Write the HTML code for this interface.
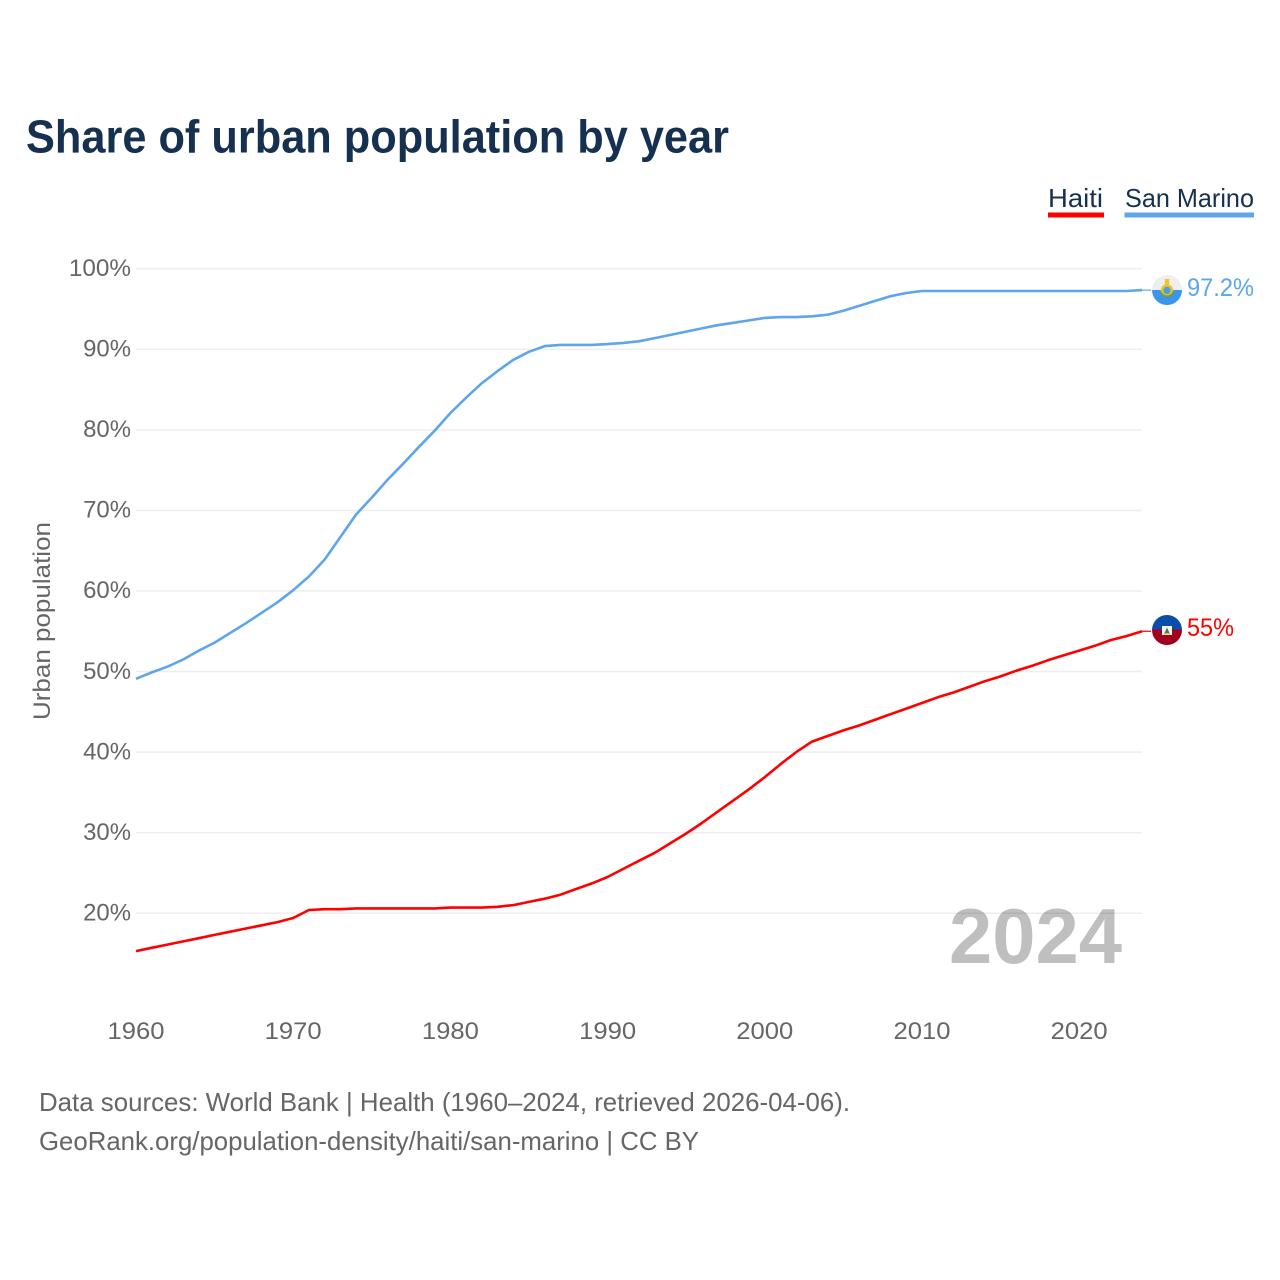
<!DOCTYPE html>
<html lang="en">
<head>
<meta charset="utf-8">
<title>Share of urban population by year</title>
<style>
html,body{margin:0;padding:0;background:#fff;width:1280px;height:1280px;overflow:hidden}
svg{display:block}
text{font-family:"Liberation Sans",sans-serif}
</style>
</head>
<body>
<svg id="chart" xmlns="http://www.w3.org/2000/svg" width="1280" height="1280" viewBox="0 0 1280 1280">
  <defs>
    <clipPath id="sm-clip"><circle cx="1167" cy="290" r="15"/></clipPath>
    <clipPath id="ht-clip"><circle cx="1167" cy="630" r="15"/></clipPath>
  </defs>
  <text x="26" y="152.5" font-size="46" font-weight="700" fill="#16304f" textLength="703" lengthAdjust="spacingAndGlyphs">Share of urban population by year</text>

  <g>
    <g>
      <text x="1048" y="207" font-size="26" fill="#16304f" textLength="55" lengthAdjust="spacingAndGlyphs">Haiti</text>
      <rect x="1048" y="212.5" width="56" height="5" fill="#ff0000"/>
    </g>
    <g>
      <text x="1125" y="207" font-size="26" fill="#16304f" textLength="129" lengthAdjust="spacingAndGlyphs">San Marino</text>
      <rect x="1124.5" y="212.5" width="129.5" height="5" fill="#5ea5ec"/>
    </g>
  </g>

  <g id="grid"></g>
  <g id="y-axis"></g>
  <g id="x-axis"></g>
  <text transform="translate(50,621) rotate(-90)" text-anchor="middle" font-size="24" fill="#666666" textLength="198" lengthAdjust="spacingAndGlyphs">Urban population</text>

  <text x="949" y="963" font-size="78" font-weight="700" fill="#000000" fill-opacity="0.25" textLength="173" lengthAdjust="spacingAndGlyphs">2024</text>

  <g id="series"></g>

  <g clip-path="url(#sm-clip)">
    <rect x="1152" y="275" width="30" height="15" fill="#eeeeee"/>
    <rect x="1152" y="290" width="30" height="15" fill="#3a96ec"/>
    <rect x="1164.8" y="279" width="4.4" height="6" fill="#f4c430"/>
    <circle cx="1167" cy="290.5" r="5" fill="#4f9fe0" stroke="#e6c62c" stroke-width="2.6"/>
    <path d="M1160.5 291.5 a6.8 6.8 0 0 0 13 0" fill="none" stroke="#7d9a3a" stroke-width="1.8"/>
  </g>
  <g clip-path="url(#ht-clip)">
    <rect x="1152" y="615" width="30" height="14.5" fill="#0b4ea8"/>
    <rect x="1152" y="629.5" width="30" height="15.5" fill="#a2001d"/>
    <rect x="1162" y="626" width="10" height="9" fill="#f4f4f4"/>
    <path d="M1164 634 L1167 627.5 L1170 634 Z" fill="#3f7f55"/>
    <rect x="1164" y="633" width="6" height="1.5" fill="#d9b93a"/>
  </g>

  <text id="label-sm" x="1187" y="296" font-size="25" fill="#5ea5ec" textLength="67" lengthAdjust="spacingAndGlyphs"></text>
  <text id="label-ht" x="1187" y="636" font-size="25" fill="#ff0000" textLength="47" lengthAdjust="spacingAndGlyphs"></text>

  <text x="39" y="1111" font-size="26" fill="#666666" textLength="811" lengthAdjust="spacingAndGlyphs">Data sources: World Bank | Health (1960–2024, retrieved 2026-04-06).</text>
  <text x="39" y="1150" font-size="26" fill="#666666" textLength="660" lengthAdjust="spacingAndGlyphs">GeoRank.org/population-density/haiti/san-marino | CC BY</text>
</svg>
<script>
const startYear = 1960;
const xTickYears = [1960, 1970, 1980, 1990, 2000, 2010, 2020];
const yTickValues = [100, 90, 80, 70, 60, 50, 40, 30, 20];
const sanMarinoValues = [49.1,49.9,50.6,51.5,52.6,53.6,54.8,56.0,57.3,58.6,60.1,61.8,63.9,66.7,69.5,71.6,73.8,75.8,77.9,79.9,82.1,84.0,85.8,87.3,88.7,89.7,90.4,90.55,90.55,90.55,90.65,90.8,91.0,91.4,91.8,92.2,92.6,93.0,93.3,93.6,93.9,94.0,94.0,94.1,94.3,94.8,95.4,96.0,96.6,97.0,97.25,97.25,97.25,97.25,97.25,97.25,97.25,97.25,97.25,97.25,97.25,97.25,97.25,97.25,97.35];
const haitiValues = [15.3,15.7,16.1,16.5,16.9,17.3,17.7,18.1,18.5,18.9,19.4,20.4,20.5,20.5,20.6,20.6,20.6,20.6,20.6,20.6,20.7,20.7,20.7,20.8,21.0,21.4,21.8,22.3,23.0,23.7,24.5,25.5,26.5,27.5,28.7,29.9,31.2,32.6,34.0,35.4,36.9,38.5,40.0,41.3,42.0,42.7,43.3,44.0,44.7,45.4,46.1,46.8,47.4,48.1,48.8,49.4,50.1,50.7,51.4,52.0,52.6,53.2,53.9,54.4,55.0];
const sanMarinoLabel = "97.2%";
const haitiLabel = "55%";

const NS = 'http://www.w3.org/2000/svg';
const xScale = year => 136 + (year - 1960) * 15.72;
const yScale = value => 268.8 + (100 - value) * 8.055;

function make(tag, parent, attrs) {
  const el = document.createElementNS(NS, tag);
  for (const k in attrs) el.setAttribute(k, attrs[k]);
  parent.appendChild(el);
  return el;
}

const grid = document.getElementById('grid');
const yAxis = document.getElementById('y-axis');
const xAxis = document.getElementById('x-axis');
const seriesGroup = document.getElementById('series');

yTickValues.forEach(v => {
  const line = make('line', grid, {x1: 136, x2: 1142, y1: yScale(v), y2: yScale(v), stroke: '#eeeeee', 'stroke-width': 1.5});
  
  
  const s = v + '%';
  const t = make('text', yAxis, {x: 131, y: yScale(v) + 7.2, 'text-anchor': 'end', 'font-size': 24, fill: '#666666', textLength: (s.length - 1) * 14.2 + 19.5, lengthAdjust: 'spacingAndGlyphs'});
  
  
  t.textContent = s;
});

xTickYears.forEach(y => {
  const t = make('text', xAxis, {x: xScale(y), y: 1039, 'text-anchor': 'middle', 'font-size': 24, fill: '#666666', textLength: 57, lengthAdjust: 'spacingAndGlyphs'});
  
  
  t.textContent = y;
});

function drawSeries(values, color, name) {
  const pts = values.map((v, i) => xScale(startYear + i).toFixed(1) + ',' + yScale(v).toFixed(1));
  const line = make('polyline', seriesGroup, {points: pts.join(' '), fill: 'none', stroke: color, 'stroke-width': 2.6, 'stroke-linejoin': 'round'});
  
  
  const lastX = xScale(startYear + values.length - 1);
  const lastY = yScale(values[values.length - 1]);
  const link = make('line', seriesGroup, {x1: lastX, x2: lastX + 9, y1: lastY, y2: lastY, stroke: color, 'stroke-width': 1.2});
  
  
}
drawSeries(sanMarinoValues, '#5ea5ec', 'line-san-marino');
drawSeries(haitiValues, '#ff0000', 'line-haiti');

document.getElementById('label-sm').textContent = sanMarinoLabel;
document.getElementById('label-ht').textContent = haitiLabel;
</script>
</body>
</html>
